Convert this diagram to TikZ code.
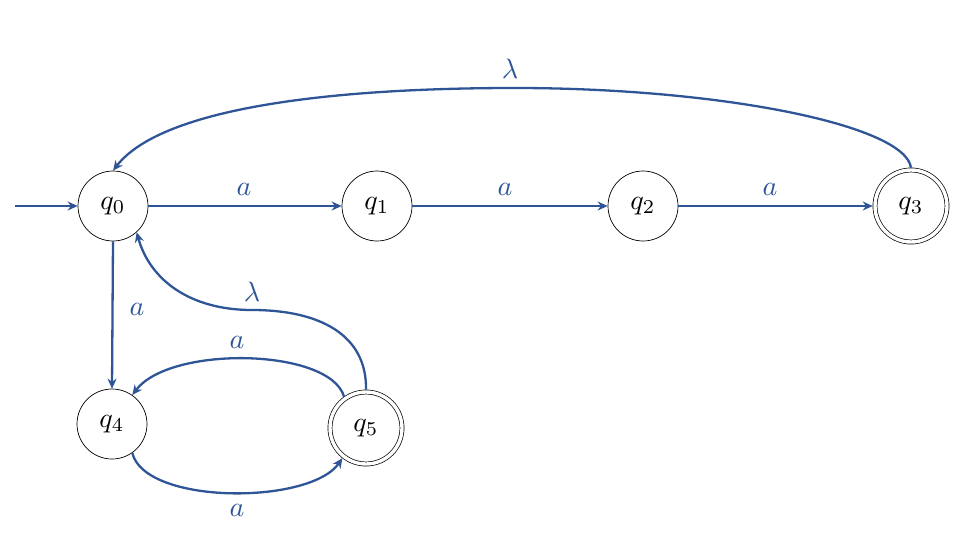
\documentclass[tikz,border=0pt]{standalone}
\usepackage{graphicx}
\usetikzlibrary{arrows.meta}
\definecolor{edgeblue}{RGB}{47,85,151}
\newcommand{\mylabeltext}[1]{\scalebox{2.8}{$#1$}}
\begin{document}
\begin{tikzpicture}[x=1pt,y=-1pt,
  state/.style={circle,draw=black,line width=0.7pt,minimum size=70pt,inner sep=0pt},
  accept/.style={circle,draw=black,line width=0.7pt,double,double distance=3.4pt,minimum size=72pt,inner sep=0pt,outer sep=2.3pt},
  edge/.style={draw=edgeblue,line width=2.3pt,-{Stealth[length=10pt,width=9pt]}},
  lbl/.style={text=edgeblue}]
\useasboundingbox (0,0) rectangle (964,535);
\node[state] (q0) at (113,206) {\mylabeltext{q_0}};
\node[state] (q1) at (377,206) {\mylabeltext{q_1}};
\node[state] (q2) at (643,206) {\mylabeltext{q_2}};
\node[accept] (q3) at (911,206) {\mylabeltext{q_3}};
\node[state] (q4) at (112,424) {\mylabeltext{q_4}};
\node[accept] (q5) at (366,428) {\mylabeltext{q_5}};
\coordinate (start) at (15,206);
\draw[edge] (start) -- (q0);
\draw[edge] (q0) -- (q1);
\draw[edge] (q1) -- (q2);
\draw[edge] (q2) -- (q3);
\draw[edge] (q3.north) .. controls (905,125) and (720,88) .. (515,88) .. controls (320,88) and (160,110) .. (q0.north);
\draw[edge] (q0.south) -- (q4.north);
\draw[edge] (q5.north) .. controls (367,335) and (320,310) .. (252,310) .. controls (190,310) and (150,280) .. (q0.-48);
\draw[edge] (q5.125) .. controls (330,348) and (170,345) .. (q4.55);
\draw[edge] (q4.-55) .. controls (145,505) and (310,505) .. (q5.-128);
\node[lbl] (l01) at (244,189) {\mylabeltext{a}};
\node[lbl] (l12) at (505,189) {\mylabeltext{a}};
\node[lbl] (l23) at (770,189) {\mylabeltext{a}};
\node[lbl] (l30) at (510,69) {\mylabeltext{\lambda}};
\node[lbl] (l04) at (137,309) {\mylabeltext{a}};
\node[lbl] (l50) at (252,292) {\mylabeltext{\lambda}};
\node[lbl] (l54) at (237,342) {\mylabeltext{a}};
\node[lbl] (l45) at (237,510) {\mylabeltext{a}};
\end{tikzpicture}
\end{document}
